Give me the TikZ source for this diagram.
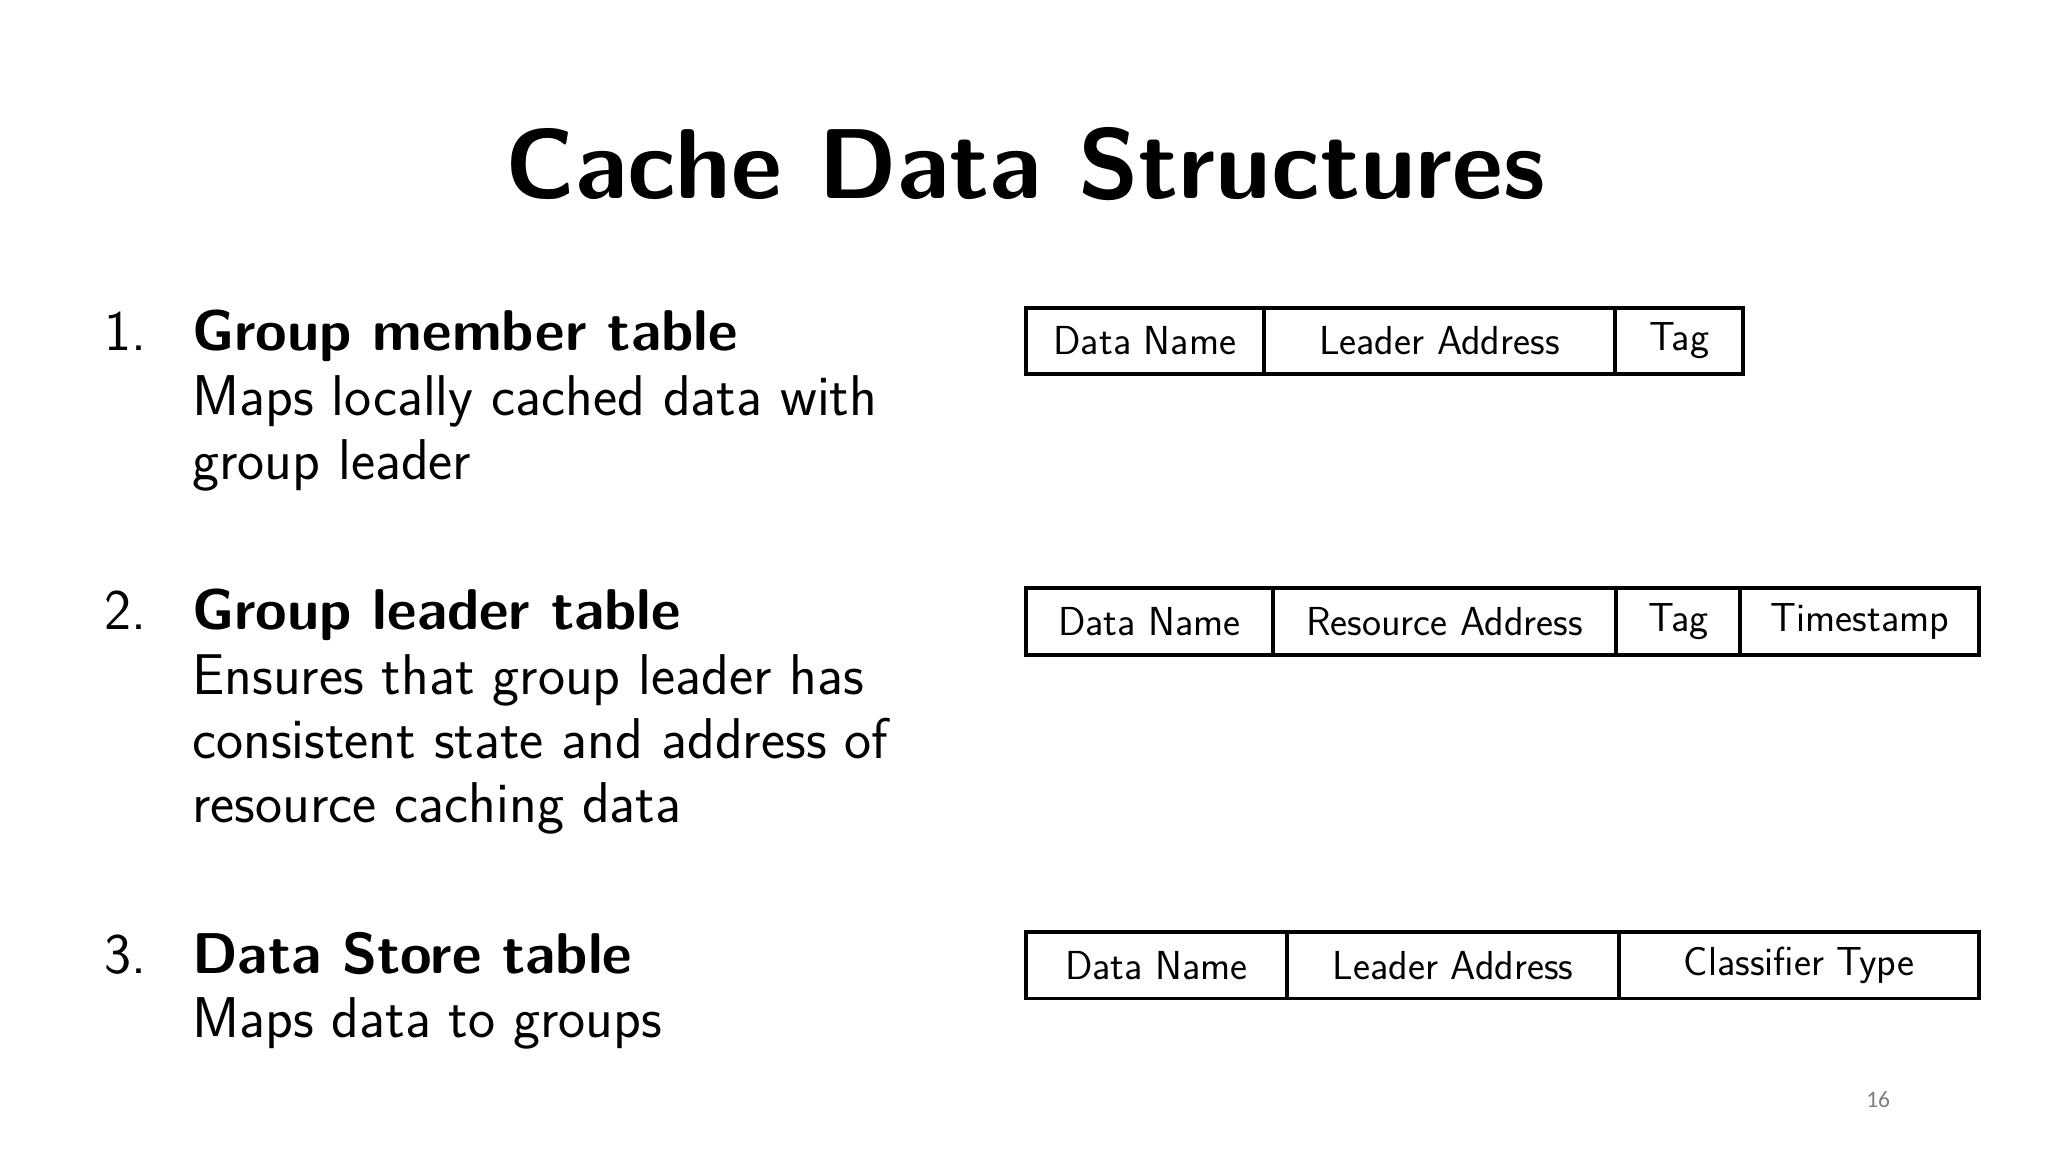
\documentclass[tikz,border=0pt]{standalone}
\usepackage{fontspec}
\newfontfamily\pgfont{Carlito}
\begin{document}
\begin{tikzpicture}[x=1pt,y=-1pt,
  cell/.style={draw,line width=3pt,inner sep=0pt,anchor=north west,font=\sffamily\fontsize{31}{31}\selectfont},
  txt/.style={anchor=base west,inner sep=0pt,font=\sffamily\fontsize{44}{44}\selectfont},
  hd/.style={anchor=base west,inner sep=0pt,font=\sffamily\bfseries\fontsize{44}{44}\selectfont}]
\useasboundingbox[fill=white] (0,0) rectangle (1568,882);
\node[anchor=base,inner sep=0pt,font=\sffamily\bfseries\fontsize{76}{76}\selectfont] (title) at (785,152) {Cache Data Structures};
% item 1
\node[txt] (n1) at (80,268) {1.};
\node[hd] (h1) at (147,268) {Group member table};
\node[txt] (a1) at (147,318) {Maps locally cached data with};
\node[txt] (b1) at (147,367) {group leader};
% item 2
\node[txt] (n2) at (80,482) {2.};
\node[hd] (h2) at (147,482) {Group leader table};
\node[txt] (a2) at (147,532) {Ensures that group leader has};
\node[txt] (b2) at (147,581) {consistent state and address of};
\node[txt] (c2) at (147,630) {resource caching data};
% item 3
\node[txt] (n3) at (80,745) {3.};
\node[hd] (h3) at (147,745) {Data Store table};
\node[txt] (a3) at (147,794) {Maps data to groups};
% tables
\newcommand{\tcell}[5]{\node[cell,minimum width=#3-#2,minimum height=51] (#1) at (#2,#4) {#5};}
\tcell{t11}{784}{966}{234}{Data Name}
\tcell{t12}{966}{1235}{234}{Leader Address}
\tcell{t13}{1235}{1333}{234}{Tag}
\tcell{t21}{784}{973}{449}{Data Name}
\tcell{t22}{973}{1236}{449}{Resource Address}
\tcell{t23}{1236}{1331}{449}{Tag}
\tcell{t24}{1331}{1514}{449}{Timestamp}
\tcell{t31}{784}{984}{712}{Data Name}
\tcell{t32}{984}{1238}{712}{Leader Address}
\tcell{t33}{1238}{1514}{712}{Classifier Type}
\node[anchor=base,inner sep=0pt,text=gray,font=\pgfont\fontsize{18}{18}\selectfont] (pg) at (1438,848) {16};
\end{tikzpicture}
\end{document}
